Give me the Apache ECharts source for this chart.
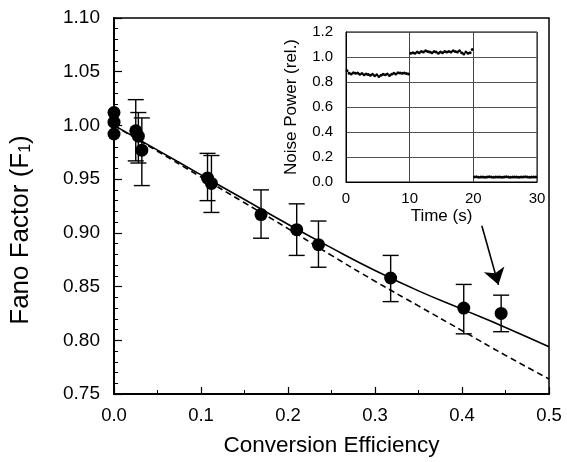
<!DOCTYPE html>
<html><head><meta charset="utf-8">
<script src="https://cdn.jsdelivr.net/npm/echarts@6/dist/echarts.min.js"></script>
<style>html,body{margin:0;padding:0;background:#fff}#c{width:567px;height:462px}</style>
</head><body><div id="c"></div>
<script>
// Main plot: measured points (conversion efficiency, Fano factor, error bar low, high)
const effX   = [0.0,   0.0,   0.0,   0.025, 0.028, 0.032, 0.1075, 0.112, 0.169, 0.210, 0.235, 0.318, 0.402, 0.445];
const fanoY  = [1.012, 1.003, 0.992, 0.995, 0.990, 0.977, 0.951,  0.946, 0.917, 0.903, 0.889, 0.858, 0.830, 0.825];
const errLo  = [null,  null,  null,  0.967, 0.965, 0.944, 0.930,  0.919, 0.895, 0.879, 0.868, 0.836, 0.806, 0.808];
const errHi  = [null,  null,  null,  1.024, 1.012, 1.007, 0.974,  0.972, 0.940, 0.927, 0.911, 0.879, 0.852, 0.842];
// Theory curves
const curveX      = [0.0, 0.05, 0.1, 0.15, 0.2, 0.25, 0.3, 0.35, 0.4, 0.45, 0.5];
const solidCurve  = [1.0, 0.977, 0.954, 0.931, 0.908, 0.886, 0.865, 0.846, 0.829, 0.812, 0.794];
const dashedCurve = [1.0, 0.976, 0.952, 0.928, 0.904, 0.879, 0.855, 0.832, 0.809, 0.786, 0.764];
// Arrow endpoints
const arrowPts = [[0.4228, 0.9067], [0.4419, 0.8516]];
// Inset: noise power traces, three 10 s segments
const insetT0 = [0, 10, 20];
const seg1 = [0.89,0.87,0.865,0.875,0.87,0.872,0.862,0.868,0.858,0.865,0.86,0.855,0.862,0.85,0.858,0.845,0.855,0.862,0.858,0.865,0.852,0.862,0.87,0.865,0.875,0.872,0.87,0.872,0.868,0.865];
const seg2 = [1.03,1.035,1.03,1.04,1.035,1.045,1.04,1.05,1.045,1.04,1.035,1.045,1.04,1.03,1.04,1.035,1.045,1.04,1.045,1.04,1.05,1.045,1.04,1.05,1.035,1.025,1.04,1.03,1.035,1.06];
const seg3 = [0.04,0.042,0.038,0.04,0.041,0.039,0.04,0.042,0.04,0.038,0.04,0.041,0.04,0.039,0.04,0.042,0.04,0.038,0.04,0.041,0.04,0.039,0.04,0.04,0.042,0.04,0.038,0.04,0.041,0.04];
const mainXTicks = ['0.0','0.1','0.2','0.3','0.4','0.5'];

const FONT = 'Liberation Sans, Arial, sans-serif';
const pts = effX.map((x,i)=>[x,fanoY[i]]);
const bars = [];
effX.forEach((x,i)=>{ if(errLo[i]!==null) bars.push([x,errLo[i],errHi[i]]); });
const insetData = [];
[seg1,seg2,seg3].forEach((s,k)=>{ s.forEach((v,i)=>{ insetData.push([insetT0[k] + (i+0.5)*10/s.length, v]); }); });

const chart = echarts.init(document.getElementById('c'));
chart.setOption({
  animation:false,
  backgroundColor:'#fff',
  grid:[
    {left:114, right:18, top:18, bottom:63, show:true, borderColor:'#000', borderWidth:1.5},
    {left:346, right:30, top:32, bottom:280, show:true, borderColor:'#000', borderWidth:1, backgroundColor:'#fff', z:10}
  ],
  xAxis:[
    {type:'value', gridIndex:0, min:0, max:0.5, interval:0.1,
     name:'Conversion Efficiency', nameLocation:'middle', nameGap:40,
     nameTextStyle:{fontFamily:FONT, fontSize:22.5, color:'#000'},
     axisLine:{lineStyle:{color:'#000', width:2}},
     axisTick:{inside:true, length:7, lineStyle:{color:'#000', width:1.2}},
     minorTick:{show:true, splitNumber:2, length:4, lineStyle:{color:'#000', width:1}},
     splitLine:{show:false},
     axisLabel:{fontFamily:FONT, fontSize:18.5, color:'#000', margin:12.5, formatter:(v)=>mainXTicks[Math.round(v*10)]}},
    {type:'value', gridIndex:1, min:0, max:30, interval:10,
     name:'Time (s)', nameLocation:'middle', nameGap:26,
     nameTextStyle:{fontFamily:FONT, fontSize:17, color:'#000'},
     axisLine:{lineStyle:{color:'#000', width:1}},
     axisTick:{show:false},
     splitLine:{show:true, lineStyle:{color:'#444', width:1}},
     axisLabel:{fontFamily:FONT, fontSize:15, color:'#000', margin:9}, z:10}
  ],
  yAxis:[
    {type:'value', gridIndex:0, min:0.75, max:1.10, interval:0.05,
     name:'Fano Factor (F{s|1})', nameLocation:'middle', nameGap:80, nameRotate:90,
     nameTextStyle:{fontFamily:FONT, fontSize:26, color:'#000', padding:[0,48,0,0],
       rich:{s:{fontFamily:FONT, fontSize:16, color:'#000', padding:[10,0,0,0]}}},
     axisLine:{lineStyle:{color:'#000', width:2}},
     axisTick:{inside:true, length:8, lineStyle:{color:'#000', width:1.2}},
     minorTick:{show:true, splitNumber:5, length:4, lineStyle:{color:'#000', width:1}},
     splitLine:{show:false},
     axisLabel:{fontFamily:FONT, fontSize:19, color:'#000', margin:14, formatter:(v)=>v.toFixed(2)}},
    {type:'value', gridIndex:1, min:0, max:1.2, interval:0.2,
     name:'Noise Power (rel.)', nameLocation:'middle', nameGap:46, nameRotate:90,
     nameTextStyle:{fontFamily:FONT, fontSize:17, color:'#000'},
     axisLine:{lineStyle:{color:'#000', width:1}},
     axisTick:{show:false},
     splitLine:{show:true, lineStyle:{color:'#555', width:1}},
     axisLabel:{fontFamily:FONT, fontSize:15, color:'#000', margin:13, formatter:(v)=>v.toFixed(1)}, z:10}
  ],
  series:[
    {type:'line', xAxisIndex:0, yAxisIndex:0, data:curveX.map((x,i)=>[x,solidCurve[i]]),
     smooth:true, showSymbol:false, lineStyle:{color:'#000', width:1.6}, z:2},
    {type:'line', xAxisIndex:0, yAxisIndex:0, data:curveX.map((x,i)=>[x,dashedCurve[i]]),
     smooth:true, showSymbol:false, lineStyle:{color:'#000', width:1.6, type:[6,4]}, z:2},
    {type:'custom', xAxisIndex:0, yAxisIndex:0, data:bars, z:3,
     renderItem:(params, api)=>{
       const lo = api.coord([api.value(0), api.value(1)]);
       const hi = api.coord([api.value(0), api.value(2)]);
       const w = 8;
       const st = {stroke:'#000', lineWidth:1.4};
       return {type:'group', children:[
         {type:'line', shape:{x1:lo[0], y1:lo[1], x2:hi[0], y2:hi[1]}, style:st},
         {type:'line', shape:{x1:lo[0]-w, y1:lo[1], x2:lo[0]+w, y2:lo[1]}, style:st},
         {type:'line', shape:{x1:hi[0]-w, y1:hi[1], x2:hi[0]+w, y2:hi[1]}, style:st}
       ]};
     }},
    {type:'scatter', xAxisIndex:0, yAxisIndex:0, data:pts, symbol:'circle', symbolSize:13,
     itemStyle:{color:'#000', opacity:1}, z:4},
    {type:'lines', coordinateSystem:'cartesian2d', xAxisIndex:0, yAxisIndex:0,
     data:[{coords:arrowPts}], symbol:['none','arrow'], symbolSize:[10,16],
     lineStyle:{color:'#000', width:1.6, opacity:1}, z:5},
    {type:'scatter', xAxisIndex:1, yAxisIndex:1, data:insetData, symbol:'circle', symbolSize:3,
     itemStyle:{color:'#000', opacity:1}, z:12}
  ]
});
</script>
</body></html>
